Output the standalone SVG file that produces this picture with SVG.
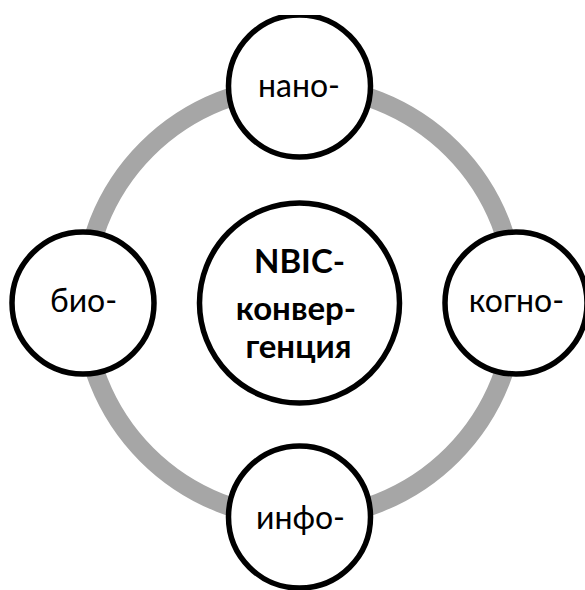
<svg xmlns="http://www.w3.org/2000/svg" width="585" height="590" viewBox="0 0 585 590">
  <defs>
    <style>
      .ring { fill: none; stroke: #a6a6a6; stroke-width: 19; }
      .node { fill: #ffffff; stroke: #000000; stroke-width: 5.5; }
      .lbl { font-family: Lato, "Liberation Sans", sans-serif; font-size: 32px; fill: #000000; text-anchor: middle; }
      .big { font-family: Lato, "Liberation Sans", sans-serif; font-size: 33px; font-weight: bold; fill: #000000; text-anchor: middle; }
    </style>
    <clipPath id="topclip"><rect x="0" y="15" width="585" height="575"/></clipPath>
  </defs>
  <rect width="585" height="590" fill="#ffffff"/>
  <g id="connectors">
    <circle class="ring" cx="299.5" cy="302" r="216"/>
  </g>
  <g id="node-center">
    <circle class="node" cx="299.5" cy="303" r="100"/>
    <text class="big" x="299.5" y="273">NBIC-</text>
    <text class="big" x="296" y="320">конвер-</text>
    <text class="big" x="298.5" y="358">генция</text>
  </g>
  <g id="node-nano" clip-path="url(#topclip)">
    <circle class="node" cx="299.5" cy="86" r="71"/>
    <text class="lbl" x="299" y="97">нано-</text>
  </g>
  <g id="node-bio">
    <circle class="node" cx="83" cy="303" r="71"/>
    <text class="lbl" x="83.5" y="312">био-</text>
  </g>
  <g id="node-kogno">
    <circle class="node" cx="516" cy="303" r="71"/>
    <text class="lbl" x="516.5" y="312">когно-</text>
  </g>
  <g id="node-info">
    <circle class="node" cx="299.5" cy="517" r="71"/>
    <text class="lbl" x="300.5" y="529">инфо-</text>
  </g>
</svg>
